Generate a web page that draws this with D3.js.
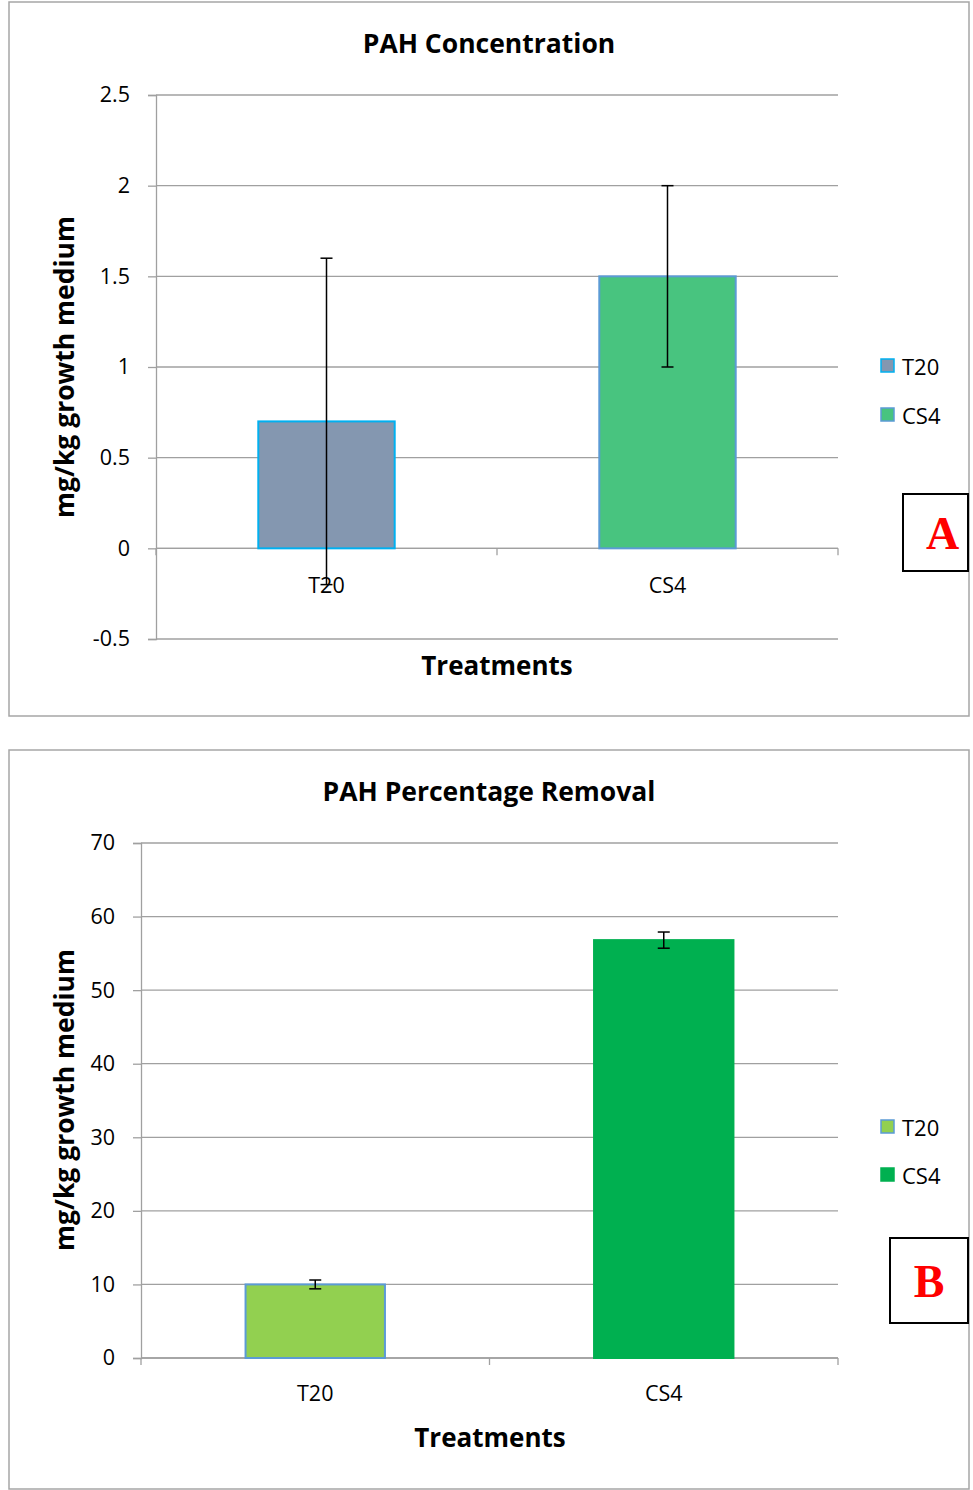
<!DOCTYPE html>
<html><head><meta charset="utf-8">
<script src="https://cdn.jsdelivr.net/npm/d3@7"></script>
<style>body{margin:0;background:#fff}svg{display:block}</style>
</head><body><svg id="c" width="973" height="1490"></svg>
<script>
const categories = ["T20", "CS4"];
// Panel A: PAH Concentration
const concValues = [0.7, 1.5];
const concErrors = [0.9, 0.5];
const concTicks = [-0.5, 0, 0.5, 1, 1.5, 2, 2.5];
// Panel B: PAH Percentage Removal
const removalValues = [10, 56.8];
const removalErrors = [0.6, 1.1];
const removalTicks = [0, 10, 20, 30, 40, 50, 60, 70];

const svg = d3.select("#c");
const FONT = "'Open Sans', 'Noto Sans', sans-serif";

function panel(o) {
  const g = svg.append("g");
  g.append("rect").attr("x", o.frame[0]).attr("y", o.frame[1]).attr("width", o.frame[2]).attr("height", o.frame[3])
    .attr("fill", "#fff").attr("stroke", "#a6a6a6").attr("stroke-width", 1.5);
  const y = d3.scaleLinear().domain(o.domain).range([o.bottom, o.top]);
  const x = d3.scaleBand().domain(categories).range([o.left, o.right]).paddingInner(0.6).paddingOuter(0.3);
  g.append("g").selectAll("line").data(o.ticks).join("line")
    .attr("x1", o.left).attr("x2", o.right).attr("y1", d => y(d)).attr("y2", d => y(d))
    .attr("stroke", "#a0a0a0").attr("stroke-width", 1.3);
  const ya = g.append("g").attr("transform", `translate(${o.left},0)`)
    .call(d3.axisLeft(y).tickValues(o.ticks).tickSize(8).tickPadding(18).tickFormat(d => String(d)));
  ya.select(".domain").attr("stroke", "#a0a0a0").attr("stroke-width", 1.3);
  ya.selectAll(".tick line").attr("stroke", "#a0a0a0").attr("stroke-width", 1.3);
  ya.selectAll("text").attr("font-family", FONT).attr("font-size", 21.5).attr("fill", "#000");
  const x0 = y(0);
  g.append("line").attr("x1", o.left).attr("x2", o.right).attr("y1", x0).attr("y2", x0)
    .attr("stroke", "#a0a0a0").attr("stroke-width", 1.3);
  const edges = [o.left, (o.left + o.right) / 2, o.right];
  g.append("g").selectAll("line").data(edges).join("line")
    .attr("x1", d => d).attr("x2", d => d).attr("y1", x0).attr("y2", x0 + 7)
    .attr("stroke", "#a0a0a0").attr("stroke-width", 1.3);
  g.append("g").selectAll("rect").data(o.values).join("rect")
    .attr("x", (d, i) => x(categories[i])).attr("width", x.bandwidth())
    .attr("y", d => y(d)).attr("height", d => y(0) - y(d))
    .attr("fill", (d, i) => o.fills[i]).attr("stroke", (d, i) => o.strokes[i]).attr("stroke-width", 2);
  const eb = g.append("g").attr("stroke", "#000").attr("stroke-width", 1.5);
  o.values.forEach((v, i) => {
    const cx = x(categories[i]) + x.bandwidth() / 2;
    const e = o.errors[i];
    eb.append("line").attr("x1", cx).attr("x2", cx).attr("y1", y(v + e)).attr("y2", y(v - e));
    eb.append("line").attr("x1", cx - 6).attr("x2", cx + 6).attr("y1", y(v + e)).attr("y2", y(v + e));
    eb.append("line").attr("x1", cx - 6).attr("x2", cx + 6).attr("y1", y(v - e)).attr("y2", y(v - e));
  });
  g.append("g").selectAll("text").data(categories).join("text")
    .attr("x", d => x(d) + x.bandwidth() / 2).attr("y", o.catY)
    .attr("text-anchor", "middle").attr("dominant-baseline", "central")
    .attr("font-family", FONT).attr("font-size", 21.5).text(d => d);
  g.append("text").attr("x", o.titleX).attr("y", o.titleY).attr("text-anchor", "middle").attr("dominant-baseline", "central")
    .attr("font-family", FONT).attr("font-weight", "bold").attr("font-size", 26.5).text(o.title);
  g.append("text").attr("x", o.xTitleX).attr("y", o.xTitleY).attr("text-anchor", "middle").attr("dominant-baseline", "central")
    .attr("font-family", FONT).attr("font-weight", "bold").attr("font-size", 26).text("Treatments");
  g.append("text").attr("transform", `translate(64,${o.yTitleY}) rotate(-90)`).attr("text-anchor", "middle").attr("dominant-baseline", "central")
    .attr("font-family", FONT).attr("font-weight", "bold").attr("font-size", 26.5).text("mg/kg growth medium");
  categories.forEach((c, i) => {
    const ly = o.legendY + i * o.legendGap;
    g.append("rect").attr("x", 881).attr("y", ly - 7).attr("width", 13).attr("height", 13)
      .attr("fill", o.fills[i]).attr("stroke", o.legendStrokes[i]).attr("stroke-width", 1.5);
    g.append("text").attr("x", 902).attr("y", ly).attr("dominant-baseline", "central")
      .attr("font-family", FONT).attr("font-size", 22).text(c);
  });
  g.append("rect").attr("x", o.box[0]).attr("y", o.box[1]).attr("width", o.box[2]).attr("height", o.box[3])
    .attr("fill", "#fff").attr("stroke", "#000").attr("stroke-width", 2);
  g.append("text").attr("x", o.box[0] + o.box[2] / 2 + o.letterDx).attr("y", o.box[1] + o.box[3] / 2 + 16)
    .attr("text-anchor", "middle").attr("font-family", "'Liberation Serif', serif").attr("font-weight", "bold")
    .attr("font-size", 46).attr("fill", "#ff0000").text(o.letter);
}

panel({
  frame: [9, 2, 960, 714], domain: [-0.5, 2.5], ticks: concTicks,
  top: 95, bottom: 639, left: 156, right: 838,
  values: concValues, errors: concErrors,
  fills: ["#8497b0", "#48c47f"], strokes: ["#00b0f0", "#5b9bd5"], legendStrokes: ["#00b0f0", "#5b9bd5"],
  catY: 584, title: "PAH Concentration", titleX: 489, titleY: 43, xTitleX: 497, xTitleY: 665, yTitleY: 367,
  legendY: 366, legendGap: 49, box: [903, 494, 65, 77], letter: "A", letterDx: 7
});
panel({
  frame: [9, 750, 960, 739], domain: [0, 70], ticks: removalTicks,
  top: 843, bottom: 1358, left: 141, right: 838,
  values: removalValues, errors: removalErrors,
  fills: ["#92d050", "#00b050"], strokes: ["#5b9bd5", "#00b050"], legendStrokes: ["#5b9bd5", "#00b050"],
  catY: 1392, title: "PAH Percentage Removal", titleX: 489, titleY: 791, xTitleX: 490, xTitleY: 1437, yTitleY: 1100,
  legendY: 1127, legendGap: 48, box: [890, 1238, 78, 85], letter: "B", letterDx: 0
});
</script></body></html>
